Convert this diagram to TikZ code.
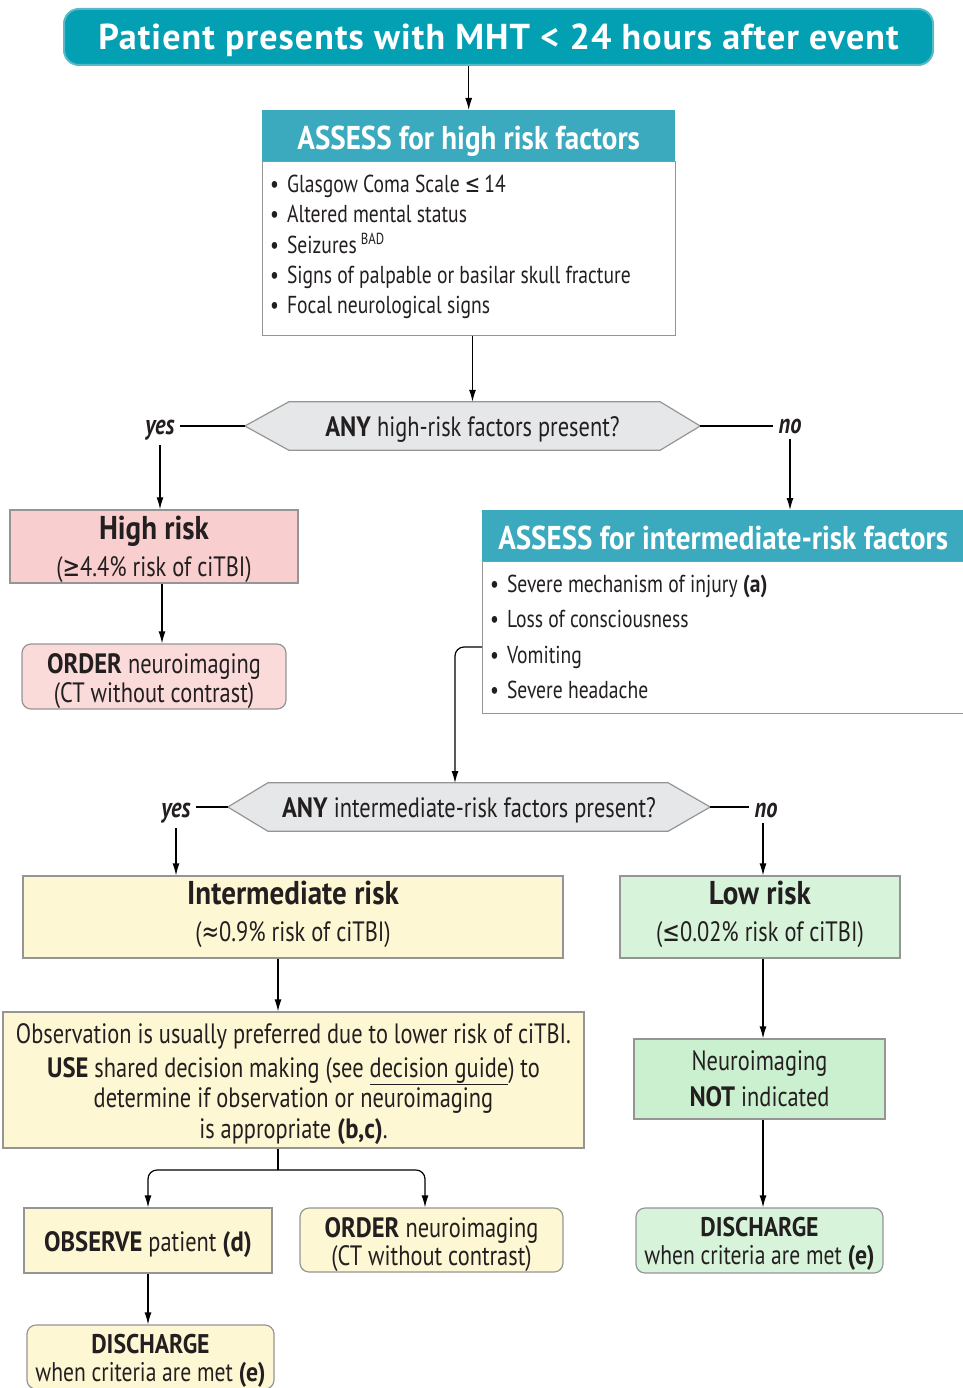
\documentclass[tikz,border=0pt]{standalone}
\usepackage{fontspec}
\setmainfont{PT Sans}[FakeStretch=0.8, BoldFeatures={FakeStretch=0.88}]
\newfontfamily\titlefont{PT Sans}[LetterSpace=3]
\newfontfamily\symfont{DejaVu Sans}[FakeStretch=0.75]
\usetikzlibrary{arrows.meta,calc,backgrounds}
\definecolor{tealA}{HTML}{03A0B4}
\definecolor{tealAb}{HTML}{58BAC9}
\definecolor{tealB}{HTML}{3BAABF}
\definecolor{bord}{HTML}{959595}
\definecolor{txt}{HTML}{231F20}
\definecolor{hexfill}{HTML}{E6E7E8}
\definecolor{pinkA}{HTML}{F9CECE}
\definecolor{pinkB}{HTML}{FBDADA}
\definecolor{yel}{HTML}{FEF7D3}
\definecolor{grA}{HTML}{D7F3DA}
\definecolor{grB}{HTML}{CBF0CF}
\newcommand{\fs}[2]{\fontsize{#1}{#2}\selectfont}
\newcommand{\hdfont}{\fs{33}{37}\bfseries}
\newcommand{\up}[1]{\rule{0pt}{#1pt}}
\newcommand{\dn}[1]{\rule[-#1pt]{0pt}{1pt}}
\begin{document}
\begin{tikzpicture}[x=1pt,y=-1pt,
  every node/.style={text=txt, inner sep=0pt},
  box/.style={draw=bord, line width=1.2pt, align=center},
  rbox/.style={box, rounded corners=9pt},
  hdr/.style={fill=tealB, text=white, font=\fs{33}{36}\bfseries, anchor=north west,
    text height=27pt, text depth=0pt},
  body/.style={draw=bord, line width=1.2pt, fill=white, anchor=north west},
  hexnode/.style={font=\fs{28}{30}, text height=27pt, text depth=6pt},
  hexshape/.style={draw=bord, fill=hexfill, line width=1.2pt},
  yn/.style={font=\fs{28}{30}\bfseries\itshape, inner sep=5pt},
  line/.style={draw=black, line width=1.2pt},
  arr/.style={line, -{Latex[length=12pt,width=7pt]}},
  two/.style={font=\fs{28}{37}}
]
\useasboundingbox (0,0) rectangle (962,1388);

% title
\node[fill=tealA, draw=tealAb, line width=2pt, rounded corners=15pt,
  minimum width=869pt, minimum height=56pt, text=white, text height=30pt, text depth=4pt,
  font=\titlefont\fs{36}{40}\bfseries] (t) at (498.5,37)
  {Patient presents with MHT < 24 hours after event};

% assess high
\node[body, minimum width=413pt, minimum height=174pt] (b1) at (262,161) {};
\node[hdr, minimum width=413pt, minimum height=51pt] (h1) at (262,110) {ASSESS for high risk factors};
\node[anchor=north west, align=left, font=\fs{24.5}{30.3}] (l1) at (270,175)
  {•\hspace{8pt}Glasgow Coma Scale {\symfont ≤}\,14\\
   •\hspace{8pt}Altered mental status\\
   •\hspace{8pt}Seizures\,\raisebox{9pt}{\fs{16}{16}BAD}\\
   •\hspace{8pt}Signs of palpable or basilar skull fracture\\
   •\hspace{8pt}Focal neurological signs};
\draw[arr] (t.south -| h1.north) -- (h1.north);

% hex 1
\node[hexnode, minimum width=455pt, minimum height=48pt] (q1) at (472.5,426)
  {\textbf{ANY} high-risk factors present?};
\begin{scope}[on background layer]
\path[hexshape] (q1.west) -- ($(q1.north west)+(44,0)$) -- ($(q1.north east)+(-40,0)$)
  -- (q1.east) -- ($(q1.south east)+(-40,0)$) -- ($(q1.south west)+(44,0)$) -- cycle;
\end{scope}
\draw[arr] (b1.south -| q1.north) -- (q1.north);
\node[yn] (y1) at (160,430) {yes};
\node[yn] (n1) at (790,426) {no};
\draw[line] (q1.west) -- (y1.east |- q1.west);
\draw[line] (q1.east) -- (n1.west |- q1.east);

% high risk
\node[box, fill=pinkA, minimum width=288pt, minimum height=73pt, two] (hr) at (154,546.5)
  {{\hdfont\up{30}High risk}\\({\symfont ≥}4.4\% risk of ciTBI)};
\node[rbox, fill=pinkB, minimum width=264pt, minimum height=65pt, font=\fs{28}{29}] (o1) at (154,676.5)
  {\up{29}\textbf{ORDER} neuroimaging\\(CT without contrast)};
\draw[arr] (y1.south) -- (y1.south |- hr.north);
\draw[arr] (hr.south -| 162,0) -- (o1.north -| 162,0);

% assess intermediate
\node[body, minimum width=482pt, minimum height=152pt] (b2) at (482,561) {};
\node[hdr, minimum width=482pt, minimum height=51pt] (h2) at (482,510) {ASSESS for intermediate-risk factors};
\node[anchor=north west, align=left, font=\fs{24.5}{35.3}] (l2) at (490,575)
  {•\hspace{8pt}Severe mechanism of injury \textbf{(a)}\\
   •\hspace{8pt}Loss of consciousness\\
   •\hspace{8pt}Vomiting\\
   •\hspace{8pt}Severe headache};
\draw[arr] (n1.south) -- (n1.south |- h2.north);

% hex 2
\node[hexnode, minimum width=482pt, minimum height=48pt] (q2) at (469,807)
  {\textbf{ANY} intermediate-risk factors present?};
\begin{scope}[on background layer]
\path[hexshape] (q2.west) -- ($(q2.north west)+(40,0)$) -- ($(q2.north east)+(-42,0)$)
  -- (q2.east) -- ($(q2.south east)+(-42,0)$) -- ($(q2.south west)+(40,0)$) -- cycle;
\end{scope}
\coordinate (c1) at (482,647);
\coordinate (c2) at (455,783);
\draw[arr, rounded corners=9pt] (c1) -| (c2);
\node[yn] (y2) at (176,813) {yes};
\node[yn] (n2) at (766,810) {no};
\draw[line] (q2.west) -- (y2.east |- q2.west);
\draw[line] (q2.east) -- (n2.west |- q2.east);

% intermediate / low
\node[box, fill=yel, minimum width=540pt, minimum height=82pt, two] (ir) at (293,917)
  {{\hdfont Intermediate risk}\\({\symfont ≈}0.9\% risk of ciTBI)\dn{11}};
\node[box, fill=grA, minimum width=280pt, minimum height=82pt, two] (lr) at (760,917)
  {{\hdfont Low risk}\\({\symfont ≤}0.02\% risk of ciTBI)\dn{11}};
\draw[arr] (y2.south) -- (y2.south |- ir.north);
\draw[arr] (n2.south -| 763,0) -- (lr.north -| 763,0);

% observation
\node[box, fill=yel, minimum width=581pt, minimum height=136pt, font=\fs{28}{30.5}] (obs) at (293.5,1080)
  {\up{28}Observation is usually preferred due to lower risk of ciTBI.\\[3pt]
   \textbf{USE} shared decision making (see \underline{decision guide}) to\\
   determine if observation or neuroimaging\\
   is appropriate \textbf{(b,c)}.};
\draw[arr] (ir.south -| 278,0) -- (obs.north -| 278,0);

\node[box, fill=yel, minimum width=248pt, minimum height=65pt, font=\fs{28}{29},
  text height=27pt, text depth=6pt] (ob) at (148,1240.5)
  {\textbf{OBSERVE} patient \textbf{(d)}};
\node[rbox, fill=yel, minimum width=263pt, minimum height=64pt, font=\fs{28}{28}] (o2) at (431.5,1240)
  {\up{29}\textbf{ORDER} neuroimaging\\(CT without contrast)};
\node[rbox, fill=yel, minimum width=247pt, minimum height=64pt, font=\fs{27}{28}] (d1) at (150.5,1357)
  {\up{27}\textbf{DISCHARGE}\\when criteria are met \textbf{(e)}};
\coordinate (br) at (278,1170);
\draw[line] (obs.south -| br) -- (br);
\draw[arr, rounded corners=9pt] (br) -| (ob.north);
\draw[arr, rounded corners=9pt] (br) -| (o2.north -| 425,0);
\draw[arr] (ob.south) -- (ob.south |- d1.north);

% low branch
\node[box, fill=grB, minimum width=251pt, minimum height=80pt, font=\fs{28}{36}] (ni) at (759.5,1079)
  {Neuroimaging\\\textbf{NOT} indicated};
\node[rbox, fill=grA, minimum width=247pt, minimum height=65pt, font=\fs{27}{28}] (d2) at (759.5,1240.5)
  {\up{25}\textbf{DISCHARGE}\\when criteria are met \textbf{(e)}};
\draw[arr] (lr.south -| 763,0) -- (ni.north -| 763,0);
\draw[arr] (ni.south -| 763,0) -- (d2.north -| 763,0);
\end{tikzpicture}
\end{document}
